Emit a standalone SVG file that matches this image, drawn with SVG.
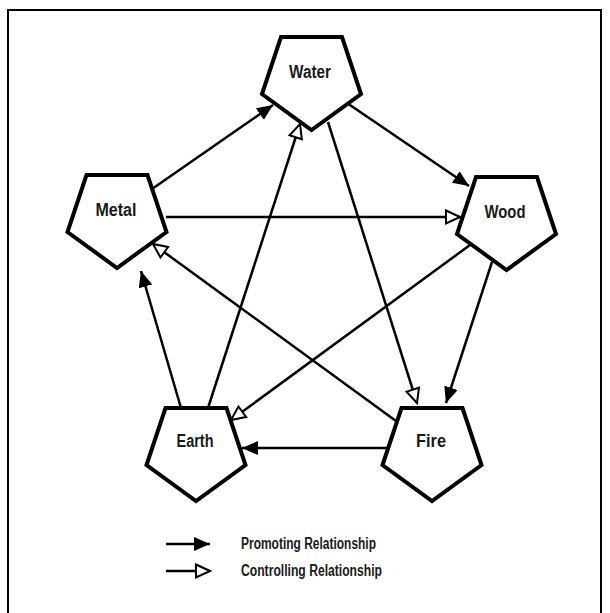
<svg xmlns="http://www.w3.org/2000/svg" xmlns:xlink="http://www.w3.org/1999/xlink" width="610" height="613" viewBox="0 0 610 613">
<style>
.pent{fill:#fff;stroke:#000;stroke-width:4;stroke-linejoin:miter}
.lbl{font-family:"Liberation Sans",Arial,sans-serif;font-weight:bold;font-size:18px;fill:#1a1a1a;text-anchor:middle}
.leg{font-family:"Liberation Sans",Arial,sans-serif;font-weight:bold;font-size:16px;fill:#1a1a1a}
.pro{stroke:#000;stroke-width:2.5;fill:none;marker-end:url(#fill)}
.con{stroke:#000;stroke-width:2.5;fill:none;marker-end:url(#open)}
</style>
<defs>
<polygon id="pg" class="pent" points="-30.5,0 30.5,0 49.5,57 0,93 -49.5,57"/>
<marker id="fill" markerUnits="userSpaceOnUse" markerWidth="17" markerHeight="15" refX="16" refY="7" orient="auto" viewBox="0 0 17 15">
<path d="M0,0 L16,7 L0,14 z" fill="#000"/>
</marker>
<marker id="open" markerUnits="userSpaceOnUse" markerWidth="18" markerHeight="18" refX="15" refY="7.5" orient="auto" viewBox="-1 -1 18 17">
<path d="M1,1 L15,7.5 L1,14 z" fill="#fff" stroke="#000" stroke-width="2"/>
</marker>
</defs>
<rect x="8" y="10" width="593" height="620" fill="#fff" stroke="#000" stroke-width="2"/>
<g id="connectors">
<line class="pro" x1="152" y1="189" x2="273" y2="105"/>
<line class="pro" x1="347" y1="103" x2="469" y2="186"/>
<line class="pro" x1="492" y1="262" x2="446" y2="403"/>
<line class="pro" x1="387" y1="448" x2="242" y2="448"/>
<line class="pro" x1="181" y1="408" x2="141" y2="271"/>
<line class="con" x1="166" y1="217" x2="460" y2="217"/>
<line class="con" x1="328" y1="122" x2="417" y2="403"/>
<line class="con" x1="208" y1="408" x2="300" y2="124"/>
<line class="con" x1="470" y1="245" x2="231" y2="420"/>
<line class="con" x1="396" y1="421" x2="153" y2="244"/>
</g>
<g id="water"><use xlink:href="#pg" href="#pg" transform="translate(311.5,37)"/><text class="lbl" x="310" y="78" textLength="42" lengthAdjust="spacingAndGlyphs">Water</text></g>
<g id="metal"><use xlink:href="#pg" href="#pg" transform="translate(117,175)"/><text class="lbl" x="116" y="216" textLength="41" lengthAdjust="spacingAndGlyphs">Metal</text></g>
<g id="wood"><use xlink:href="#pg" href="#pg" transform="translate(506.5,177)"/><text class="lbl" x="505" y="218" textLength="41" lengthAdjust="spacingAndGlyphs">Wood</text></g>
<g id="earth"><use xlink:href="#pg" href="#pg" transform="translate(196,408)"/><text class="lbl" x="195" y="447" textLength="37" lengthAdjust="spacingAndGlyphs">Earth</text></g>
<g id="fire"><use xlink:href="#pg" href="#pg" transform="translate(432,408)"/><text class="lbl" x="431" y="447" textLength="30" lengthAdjust="spacingAndGlyphs">Fire</text></g>
<g id="legend">
<line class="pro" x1="166" y1="544" x2="210" y2="544"/>
<line class="con" x1="166" y1="571" x2="210" y2="571"/>
<text class="leg" x="241" y="549" textLength="135" lengthAdjust="spacingAndGlyphs">Promoting Relationship</text>
<text class="leg" x="241" y="576" textLength="141" lengthAdjust="spacingAndGlyphs">Controlling Relationship</text>
</g>
</svg>
